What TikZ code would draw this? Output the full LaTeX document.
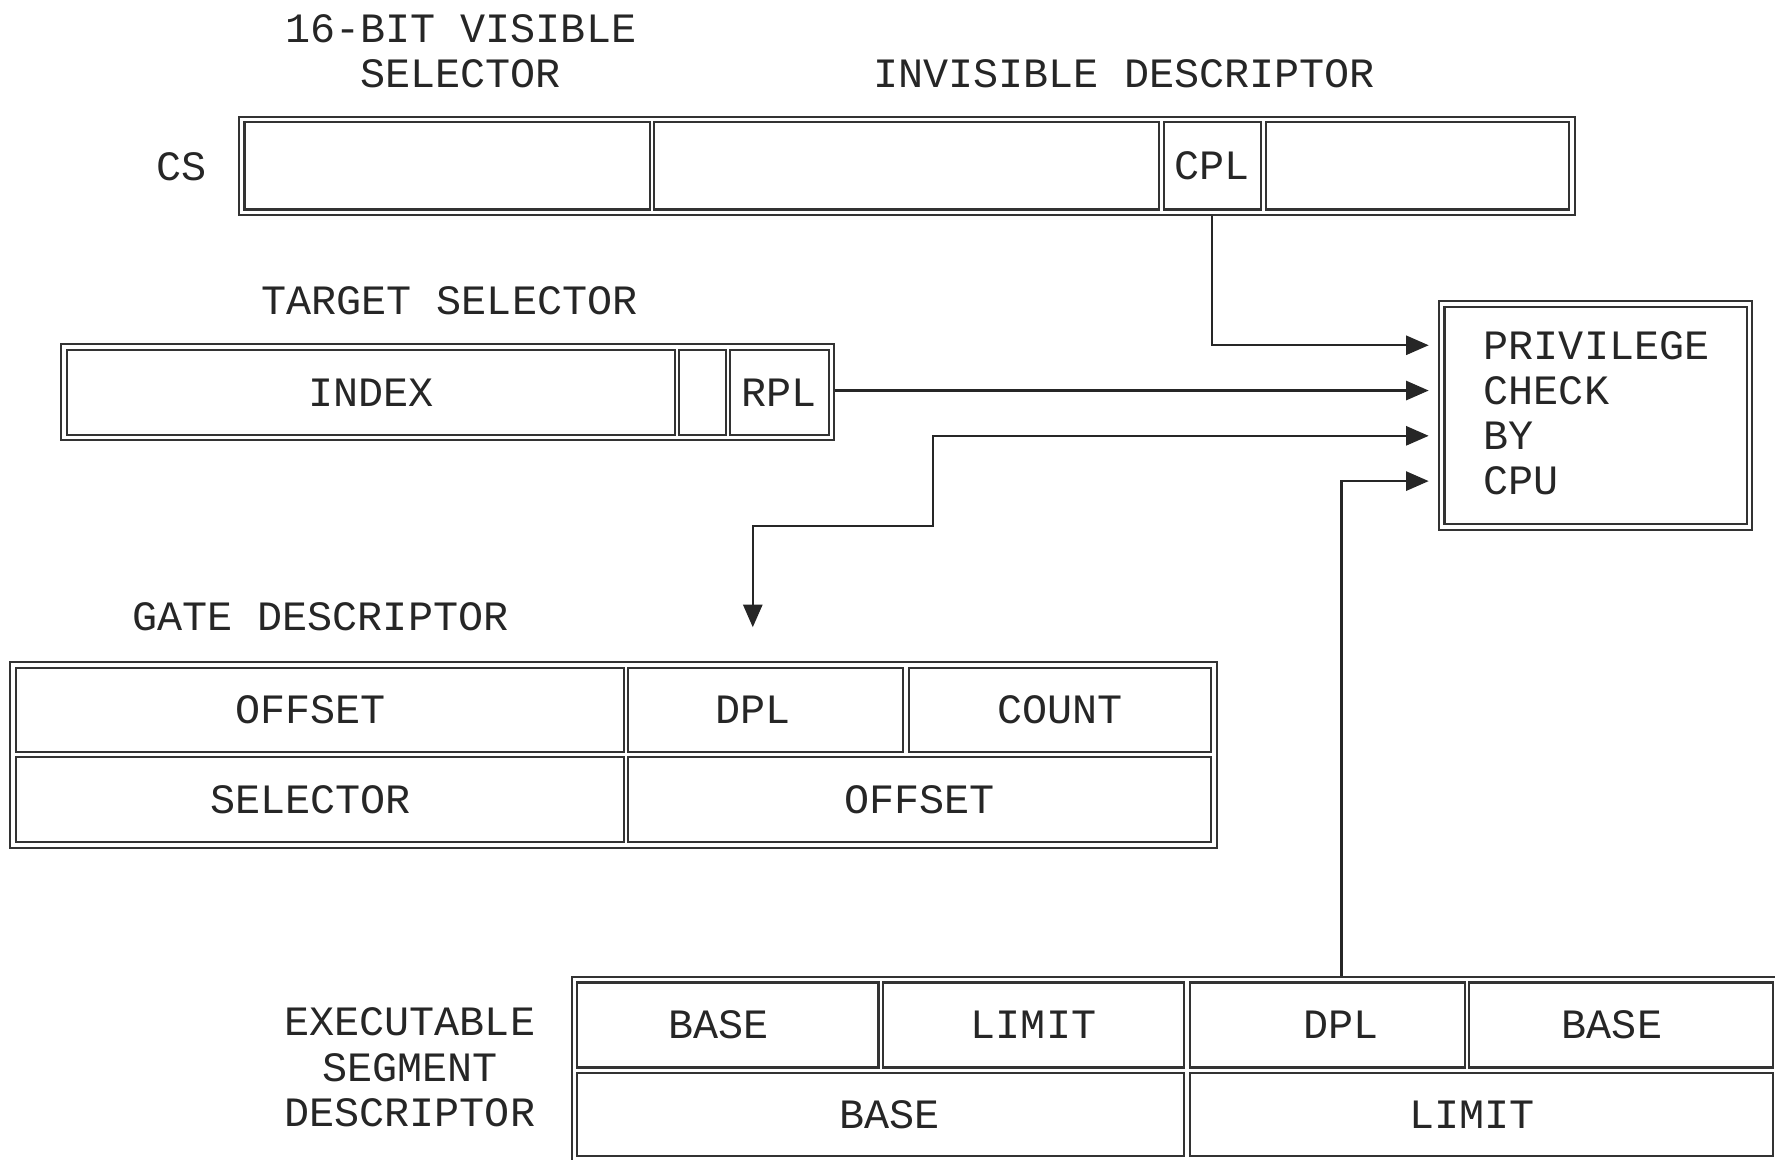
\documentclass[tikz,border=0pt]{standalone}
\usepackage{fontspec}
\newfontfamily\regfont{Liberation Mono}
\usetikzlibrary{arrows.meta}
\usetikzlibrary{fit}

\tikzset{
  celltext/.style={font=\regfont\fontsize{10.5}{11.4}\selectfont,text=black!85,inner sep=0pt},
  cell/.style={draw=black!80,line width=0.55pt,inner sep=0pt},
  frame/.style={draw=black!80,line width=0.55pt,inner sep=0.4mm},
  caption/.style={celltext,align=center},
  link/.style={draw=black!85,line width=0.55pt,->,shorten >=0.8mm},
  >={Triangle[length=2mm,width=1.7mm]},
}

\begin{document}
\begin{tikzpicture}[x=0.1mm,y=-0.1mm]
\useasboundingbox (0,0) rectangle (1568,1024);
\clip (0,0) rectangle (1568,1024);

\node[caption] (vislbl) at (407,45) {16-BIT VISIBLE\\SELECTOR};
\node[caption] (invlbl) at (993,65) {INVISIBLE DESCRIPTOR};
\node[caption] (cslbl) at (160,147) {CS};
\node[cell,fit={(216,108)(574,185)}] (cssel) {};
\node[cell,fit={(578,108)(1024,185)}] (csinv) {};
\node[cell,fit={(1028,108)(1114,185)},label={[celltext]center:CPL}] (cpl) {};
\node[cell,fit={(1118,108)(1386,185)}] (csrest) {};
\node[frame,fit=(cssel)(csrest)] (csframe) {};

\node[caption] (tslbl) at (397,266) {TARGET SELECTOR};
\node[cell,fit={(59,309)(596,384)},label={[celltext]center:INDEX}] (index) {};
\node[cell,fit={(600,309)(641,384)}] (ti) {};
\node[cell,fit={(645,309)(732,384)},label={[celltext]center:RPL}] (rpl) {};
\node[frame,fit=(index)(rpl)] (tsframe) {};

\node[cell,fit={(1276,271)(1543,463)}] (privbox) {};
\node[frame,fit=(privbox)] (privframe) {};
\node[caption,anchor=west] (pl1) at (1310,305) {PRIVILEGE};
\node[caption,anchor=west] (pl2) at (1310,345) {CHECK};
\node[caption,anchor=west] (pl3) at (1310,385) {BY};
\node[caption,anchor=west] (pl4) at (1310,425) {CPU};

\node[caption] (gatelbl) at (283,545) {GATE DESCRIPTOR};
\node[cell,fit={(14,590)(551,664)},label={[celltext,xshift=-0.8mm]center:OFFSET}] (goffhi) {};
\node[cell,fit={(555,590)(798,664)},label={[celltext,xshift=-1.1mm]center:DPL}] (gdpl) {};
\node[cell,fit={(803,590)(1070,664)},label={[celltext]center:COUNT}] (gcount) {};
\node[cell,fit={(14,669)(551,744)},label={[celltext,xshift=-0.8mm]center:SELECTOR}] (gsel) {};
\node[cell,fit={(555,669)(1070,744)},label={[celltext]center:OFFSET}] (gofflo) {};
\node[frame,fit=(goffhi)(gofflo)] (gframe) {};

\node[caption] (execlbl) at (362,943) {EXECUTABLE\\SEGMENT\\DESCRIPTOR};
\node[cell,fit={(510,868)(776,943)},label={[celltext,xshift=-0.8mm]center:BASE}] (ebasehi) {};
\node[cell,fit={(780,868)(1046,943)},label={[celltext]center:LIMIT}] (elimhi) {};
\node[cell,fit={(1051,868)(1294,943)},label={[celltext,xshift=1.25mm]center:DPL}] (edpl) {};
\node[cell,fit={(1298,868)(1566,943)},label={[celltext,xshift=-0.8mm]center:BASE}] (ebasemid) {};
\node[cell,fit={(510,948)(1046,1021)},label={[celltext,xshift=0.8mm]center:BASE}] (ebaselo) {};
\node[cell,fit={(1051,948)(1566,1021)},label={[celltext,xshift=-0.8mm]center:LIMIT}] (elimlo) {};
\node[frame,fit=(ebasehi)(elimlo)] (eframe) {};

\coordinate (gbend) at (824,465);
\draw[link] (cpl.south |- csframe.south) |- (pl1.west -| privframe.west);
\draw[link] (tsframe.east |- pl2.west) -- (pl2.west -| privframe.west);
\draw[link,<->,shorten <=3mm] ([xshift=-1.15mm]gdpl.north |- gframe.north) |- (gbend) |- (pl3.west -| privframe.west);
\draw[link] ([xshift=1.25mm]edpl.north |- eframe.north) |- (pl4.west -| privframe.west);
\end{tikzpicture}
\end{document}
